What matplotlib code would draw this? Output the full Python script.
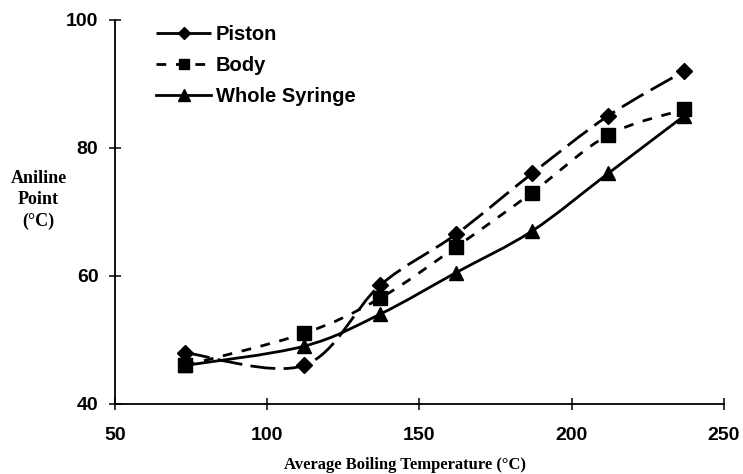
import matplotlib

matplotlib.use("Agg")

import matplotlib.pyplot as plt  # noqa: E402
from matplotlib.lines import Line2D  # noqa: E402
from matplotlib.patches import PathPatch  # noqa: E402
from matplotlib.path import Path  # noqa: E402

BOILING_TEMP = [73, 112, 137, 162, 187, 212, 237]
PISTON = [48, 46, 58.5, 66.5, 76, 85, 92]
BODY = [46, 51, 56.5, 64.5, 73, 82, 86]
WHOLE_SYRINGE = [46, 49, 54, 60.5, 67, 76, 85]

SERIES = [
    ("Piston", PISTON, "D", 8, (0, (9, 3))),
    ("Body", BODY, "s", 9.5, (0, (3.5, 3.5))),
    ("Whole Syringe", WHOLE_SYRINGE, "^", 10, "-"),
]


def smooth_path(xs, ys):
    """Catmull-Rom style bezier through the points (spreadsheet 'smoothed line')."""
    pts = list(zip(xs, ys))
    verts = [pts[0]]
    codes = [Path.MOVETO]
    n = len(pts)
    for i in range(n - 1):
        p0 = pts[i - 1] if i > 0 else pts[i]
        p1 = pts[i]
        p2 = pts[i + 1]
        p3 = pts[i + 2] if i + 2 < n else pts[i + 1]
        c1 = (p1[0] + (p2[0] - p0[0]) / 6, p1[1] + (p2[1] - p0[1]) / 6)
        c2 = (p2[0] - (p3[0] - p1[0]) / 6, p2[1] - (p3[1] - p1[1]) / 6)
        verts += [c1, c2, p2]
        codes += [Path.CURVE4] * 3
    return Path(verts, codes)


def main() -> None:
    fig = plt.figure(figsize=(7.43, 4.74), dpi=100)
    ax = fig.add_axes([0.155, 0.148, 0.819, 0.81])

    handles = []
    for name, values, marker, size, style in SERIES:
        ax.add_patch(PathPatch(smooth_path(BOILING_TEMP, values), fill=False,
                               edgecolor="black", linewidth=2.0, linestyle=style,
                               capstyle="butt"))
        ax.plot(BOILING_TEMP, values, linestyle="none", marker=marker,
                markersize=size, color="black")
        handles.append(Line2D([], [], color="black", linewidth=2.0, linestyle=style,
                              marker=marker, markersize=size, label=name))

    ax.set_xlim(50, 250)
    ax.set_ylim(40, 100)
    ax.set_xticks([50, 100, 150, 200, 250])
    ax.set_yticks([40, 60, 80, 100])

    for side in ("top", "right"):
        ax.spines[side].set_visible(False)
    for side in ("left", "bottom"):
        ax.spines[side].set_linewidth(1.3)
    ax.tick_params(direction="inout", length=8, width=1.1)
    ax.tick_params(axis="x", pad=13)
    ax.tick_params(axis="y", pad=8)
    for lab in ax.get_xticklabels() + ax.get_yticklabels():
        lab.set_fontfamily("Liberation Sans")
        lab.set_fontweight("bold")
        lab.set_fontsize(14)

    ax.set_xlabel("Average Boiling Temperature (°C)", fontfamily="Liberation Serif",
                  fontweight="bold", fontsize=12, labelpad=9)
    # the axis title sits a little left of the axes centre
    ax.xaxis.label.set_x(0.476)
    fig.text(0.052, 0.578, "Aniline\nPoint\n(°C)", ha="center", va="center",
             fontfamily="Liberation Serif", fontweight="bold", fontsize=13,
             linespacing=1.3)

    ax.legend(handles=handles, loc="upper left", bbox_to_anchor=(0.038, 1.035),
              frameon=False, handlelength=2.7, handletextpad=0.25, labelspacing=0.6,
              markerscale=0.8,
              prop={"family": "Liberation Sans", "weight": "bold", "size": 14.5})

    fig.savefig("out.png", dpi=100)
    plt.close(fig)


if __name__ == "__main__":
    main()
